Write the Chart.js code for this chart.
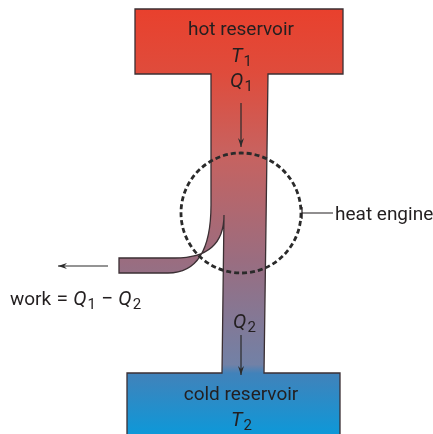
<!DOCTYPE html>
<html>
<head>
<meta charset="utf-8">
<script src="https://cdn.jsdelivr.net/npm/chart.js@4"></script>
<style>
html,body{margin:0;padding:0;background:#fff}
#wrap{width:433px;height:434px}
</style>
</head>
<body>
<div id="wrap"><canvas id="diagram" width="433" height="434"></canvas></div>
<script>
// ===== geometry, in picture units (y grows downward) =====
// outline of hot reservoir + stem + work branch + cold reservoir
const outlineCmd = ["M","L","L","L","L","L","L","L","L","L","L","Q","L","L","L","Q","L","L","Z"]
const outlinePts = [
[135,9],[343,9],[343,74],[268,74],[264,373],[340,373],[340,440],[127,440],[127,373],[222,373],
[224,215],[224,258,175,258],[119,258],[119,273],[168,273],[211,273,211,205],[211,74],[135,74],[]
]

// dashed circle round the engine
const engineCenter = [241,213]
const engineRadius = 60

// arrows: x1,y1 -> x2,y2 (head at end)
const arrowFrom = [[241,103],[241,335],[108,266]]
const arrowTo   = [[241,147],[241,375],[58,266]]

// leader for "heat engine"
const leaderX = [302,333]
const leaderY = 213

// labels: parts [text, style] style: n normal, i italic, s subscript
const labelParts = [
[["hot reservoir","n"]],
[["T","i"],["1","s"]],
[["Q","i"],["1","s"]],
[["heat engine","n"]],
[["work","n"],[" = ","m"],["Q","i"],["1","s"],[" \u2212 ","m"],["Q","i"],["2","s"]],
[["Q","i"],["2","s"]],
[["cold reservoir","n"]],
[["T","i"],["2","s"]]
]
// baselines
const labelX = [241,241,241,335,10,244,241,241]
const labelY = [35,62,87,220,305,328,400,426]
const labelAlign = ["center","center","center","left","left","center","center","center"]

// ===== drawing =====
const FONT = "Roboto"

function px(chart,x,y){
return [chart.scales.x.getPixelForValue(x),chart.scales.y.getPixelForValue(y)]
}

function fontFor(st){
if(st=="i") return "italic 20px "+FONT
if(st=="s") return "15px "+FONT
if(st=="m") return "21px "+FONT
return "19px "+FONT
}

function drawLabel(ctx,chart,i){
let parts=labelParts[i]
let w=0
parts.forEach(p=>{ctx.font=fontFor(p[1]);w+=ctx.measureText(p[0]).width})
let [x,y]=px(chart,labelX[i],labelY[i])
if(labelAlign[i]=="center") x-=w/2
ctx.textAlign="left"
ctx.textBaseline="alphabetic"
ctx.fillStyle="#231f20"
parts.forEach(p=>{
ctx.font=fontFor(p[1])
ctx.fillText(p[0],x,p[1]=="s"?y+4:y)
x+=ctx.measureText(p[0]).width+(p[1]=="i"?1:0)
})
}

const diagramPlugin={
id:"diagram",
beforeDatasetsDraw(chart){
const ctx=chart.ctx
ctx.save()
// body
ctx.beginPath()
outlineCmd.forEach((c,i)=>{
let p=outlinePts[i]
if(c=="M") ctx.moveTo(...px(chart,p[0],p[1]))
if(c=="L") ctx.lineTo(...px(chart,p[0],p[1]))
if(c=="Q") ctx.quadraticCurveTo(...px(chart,p[0],p[1]),...px(chart,p[2],p[3]))
if(c=="Z") ctx.closePath()
})
let top=chart.scales.y.getPixelForValue(0),bot=chart.scales.y.getPixelForValue(434)
let g=ctx.createLinearGradient(0,top,0,bot)
g.addColorStop(0,"#ea3f2b")
g.addColorStop(0.17,"#df4c3c")
g.addColorStop(0.35,"#c8625f")
g.addColorStop(0.6,"#9a6d80")
g.addColorStop(0.84,"#7281a6")
g.addColorStop(0.86,"#4182ba")
g.addColorStop(1,"#0e98d8")
ctx.fillStyle=g
ctx.fill()
ctx.strokeStyle="#3b2f33"
ctx.lineWidth=1.3
ctx.lineJoin="miter"
ctx.stroke()

// dashed engine circle
let [cx,cy]=px(chart,engineCenter[0],engineCenter[1])
let r=chart.scales.x.getPixelForValue(engineRadius)-chart.scales.x.getPixelForValue(0)
ctx.beginPath()
ctx.arc(cx,cy,r,0,Math.PI*2)
ctx.setLineDash([5,3])
ctx.lineWidth=2.8
ctx.strokeStyle="#2a2a2a"
ctx.stroke()
ctx.setLineDash([])

// leader
ctx.lineWidth=1.2
ctx.strokeStyle="#231f20"
ctx.beginPath()
ctx.moveTo(...px(chart,leaderX[0],leaderY))
ctx.lineTo(...px(chart,leaderX[1],leaderY))
ctx.moveTo(...px(chart,leaderX[0],leaderY-6))
ctx.lineTo(...px(chart,leaderX[0],leaderY+6))
ctx.stroke()
ctx.restore()
},
afterDatasetsDraw(chart){
const ctx=chart.ctx
ctx.save()
// arrow heads
arrowTo.forEach((t,i)=>{
let [x2,y2]=px(chart,t[0],t[1])
let [x1,y1]=px(chart,arrowFrom[i][0],arrowFrom[i][1])
let a=Math.atan2(y2-y1,x2-x1)
ctx.beginPath()
ctx.moveTo(x2,y2)
ctx.lineTo(x2-9*Math.cos(a)+3*Math.sin(a),y2-9*Math.sin(a)-3*Math.cos(a))
ctx.lineTo(x2-6*Math.cos(a),y2-6*Math.sin(a))
ctx.lineTo(x2-9*Math.cos(a)-3*Math.sin(a),y2-9*Math.sin(a)+3*Math.cos(a))
ctx.closePath()
ctx.fillStyle="#2b2b2b"
ctx.fill()
})
labelParts.forEach((p,i)=>drawLabel(ctx,chart,i))
ctx.restore()
}
}

// arrow shafts are plain line datasets
const arrowSets=arrowFrom.map((f,i)=>({
data:[{x:f[0],y:f[1]},{x:arrowTo[i][0],y:arrowTo[i][1]}],
showLine:true,
borderColor:"#2b2b2b",
borderWidth:1.2,
pointRadius:0
}))

new Chart(document.getElementById("diagram"),{
type:"scatter",
data:{datasets:arrowSets},
options:{
responsive:false,
animation:false,
layout:{padding:0},
scales:{
x:{type:"linear",min:0,max:433,display:false},
y:{type:"linear",min:0,max:434,reverse:true,display:false}
},
plugins:{legend:{display:false},tooltip:{enabled:false}}
},
plugins:[diagramPlugin]
})
</script>
</body>
</html>
